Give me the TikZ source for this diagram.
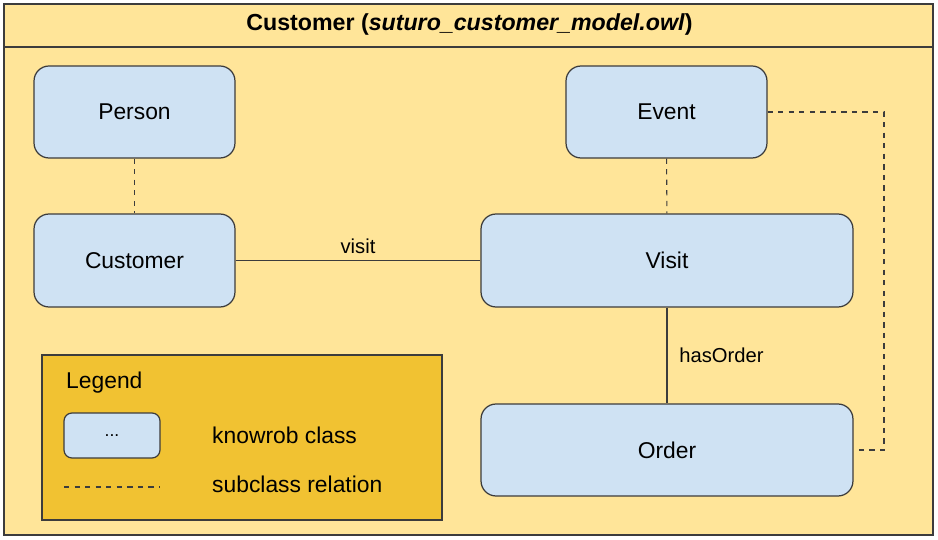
\documentclass[tikz,border=0pt]{standalone}
\usepackage{fontspec}
\setmainfont{Liberation Sans}
\definecolor{paleyellow}{HTML}{FFE599}
\definecolor{legendgold}{HTML}{F1C232}
\definecolor{classblue}{HTML}{CFE2F3}
\definecolor{edgegray}{HTML}{3C3C3C}
\begin{document}
\begin{tikzpicture}[x=0.02cm,y=-0.02cm,
    cls/.style={draw=edgegray,fill=classblue,rounded corners=0.3cm,line width=0.7pt,
      font=\fontsize{13}{15}\selectfont},
    subrel/.style={dashed,draw=edgegray,line width=0.6pt},
    rel/.style={draw=edgegray,line width=0.6pt},
    lbl/.style={font=\fontsize{11.5}{13}\selectfont},
    legtext/.style={anchor=west,font=\fontsize{13}{15}\selectfont}]
  \useasboundingbox (0,0) rectangle (938,540);
  % frame and title
  \draw[draw=edgegray,fill=paleyellow,line width=0.7pt] (4,4) rectangle (933,535);
  \draw[draw=edgegray,line width=0.7pt] (4,47) -- (933,47);
  \node[font=\bfseries\fontsize{13.2}{15}\selectfont] (title) at (469.5,25)
    {Customer (\textit{suturo\_customer\_model.owl})};
  % classes
  \node[cls,minimum width=4.02cm,minimum height=1.84cm] (person) at (134.5,112) {Person};
  \node[cls,minimum width=4.02cm,minimum height=1.86cm] (customer) at (134.5,260.5) {Customer};
  \node[cls,minimum width=4.02cm,minimum height=1.84cm] (event) at (666.5,112) {Event};
  \node[cls,minimum width=7.44cm,minimum height=1.86cm] (visit) at (667,260.5) {Visit};
  \node[cls,minimum width=7.44cm,minimum height=1.84cm] (order) at (667,450) {Order};
  % relations
  \draw[subrel] (person) -- (customer);
  \draw[subrel] (event) -- (visit);
  \draw[rel] (customer) -- node[lbl,above] {visit} (visit);
  \draw[rel] (visit) -- node[lbl,right=0.12cm] {hasOrder} (order);
  \draw[subrel] (event.east) -- (884,112) |- (order.east);
  % legend
  \draw[draw=edgegray,fill=legendgold,line width=0.7pt] (42,355) rectangle (442,520);
  \node[legtext] (legend) at (60,383) {Legend};
  \node[cls,minimum width=1.92cm,minimum height=0.9cm,rounded corners=0.16cm,
    font=\fontsize{10}{12}\selectfont] (dots) at (112,435.5) {...};
  \node[legtext] (clstext) at (206,435) {knowrob class};
  \coordinate (d1) at (64,487);
  \coordinate (d2) at (160,487);
  \draw[subrel] (d1) -- (d2);
  \node[legtext] (subtext) at (206,484) {subclass relation};
\end{tikzpicture}
\end{document}
